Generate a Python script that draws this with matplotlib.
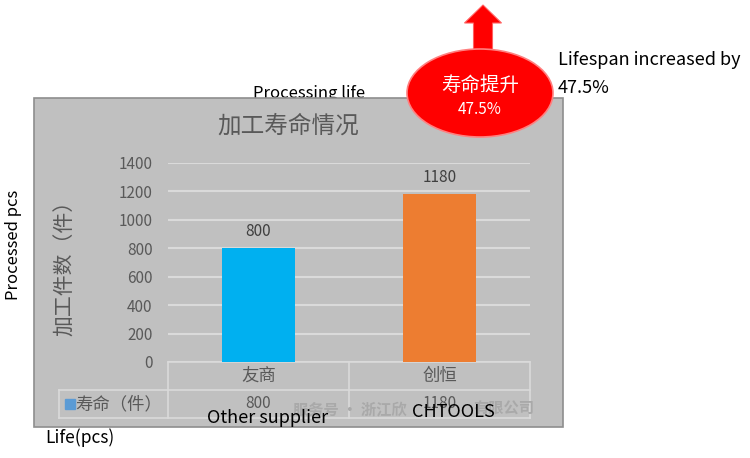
from matplotlib import pyplot as plt
from matplotlib.patches import Rectangle, Ellipse, FancyArrow

plt.rcParams['font.family'] = ['Noto Sans CJK SC', 'DejaVu Sans']

categories = ['友商', '创恒']
life_pcs = [800, 1180]
bar_colors = ['#00b0f0', '#ed7d31']
yticks = [0, 200, 400, 600, 800, 1000, 1200, 1400]
series_name = '寿命（件）'
chart_title = '加工寿命情况'
y_title = '加工件数（件）'
badge_lines = ['寿命提升', '47.5%']

W, H = 750, 458
fig = plt.figure(figsize=(W / 100, H / 100), dpi=100)

# background layer, pixel coords
bg = fig.add_axes([0, 0, 1, 1], zorder=0)
bg.set_xlim(0, W)
bg.set_ylim(H, 0)
bg.axis('off')
bg.text(309, 94, 'Processing life', fontsize=12, ha='center', va='center', color='black', zorder=1)
bg.add_patch(Rectangle((34, 98), 529, 329, fc='#c0c0c0', ec='#8e8e8e', lw=1.2, zorder=2))
bg.text(288, 126, chart_title, fontsize=17, ha='center', va='center', color='#595959', zorder=3)

# chart
ax = fig.add_axes([168 / W, 1 - 362 / H, 362 / W, 199 / H], zorder=1)
ax.set_facecolor('none')
x = list(range(len(categories)))
bars = ax.bar(x, life_pcs, width=0.4, color=bar_colors, zorder=3)
ax.bar_label(bars, labels=[str(v) for v in life_pcs], padding=6, fontsize=11, color='#404040')
ax.set_xlim(-0.5, 1.5)
ax.set_ylim(0, 1400)
ax.set_yticks(yticks)
ax.set_xticks([])
ax.grid(axis='y', color='#dadada', linewidth=1.5, zorder=1)
for s in ax.spines.values():
    s.set_visible(False)
ax.tick_params(axis='y', length=0, pad=11, labelsize=11, labelcolor='#595959')
ax.set_ylabel(y_title, fontsize=15, color='#595959')
ax.yaxis.set_label_coords(-0.255, 0.5)

# data table under the axis
tr = ax.get_xaxis_transform()
lc = '#dadada'
left = (59 - 168) / 181 - 0.5
r1, r2 = -28 / 199, -56 / 199
ax.plot([-0.5, 1.5], [0, 0], color=lc, lw=1.2, transform=tr, clip_on=False)
ax.plot([left, 1.5], [r1, r1], color=lc, lw=1.2, transform=tr, clip_on=False)
ax.plot([left, 1.5], [r2, r2], color=lc, lw=1.2, transform=tr, clip_on=False)
for xv in [-0.5, 0.5, 1.5]:
    ax.plot([xv, xv], [0, r2], color=lc, lw=1.2, transform=tr, clip_on=False)
ax.plot([left, left], [r1, r2], color=lc, lw=1.2, transform=tr, clip_on=False)
for xi, cat, v in zip(x, categories, life_pcs):
    ax.text(xi, r1 / 2, cat, transform=tr, ha='center', va='center', fontsize=12.5, color='#595959')
    ax.text(xi, (r1 + r2) / 2, str(v), transform=tr, ha='center', va='center', fontsize=11, color='#595959')
ax.plot([left + 0.061], [(r1 + r2) / 2], marker='s', ms=7, color='#5b9bd5', transform=tr, clip_on=False)
ax.text(left + 0.09, (r1 + r2) / 2, series_name, transform=tr, ha='left', va='center', fontsize=12.5, color='#595959')

# overlay layer, pixel coords
top = fig.add_axes([0, 0, 1, 1], zorder=5)
top.set_facecolor('none')
top.set_xlim(0, W)
top.set_ylim(H, 0)
top.axis('off')
top.text(293, 409, '服务号 · 浙江欣', fontsize=11, fontweight='bold', color='#a9a9a9', ha='left', va='center')
top.text(535, 409, '有限公司', fontsize=11, fontweight='bold', color='#a9a9a9', ha='right', va='center')
top.add_patch(FancyArrow(483, 52, 0, -47, width=19, head_width=37, head_length=18,
                         length_includes_head=True, fc='#ff0000', ec='#ff6060', lw=0.8))
top.add_patch(Ellipse((480, 93), 146, 88, fc='#ff0000', ec='#ff8080', lw=1.2))
top.text(480, 85, badge_lines[0], fontsize=14, color='white', ha='center', va='center')
top.text(480, 109, badge_lines[1], fontsize=11, color='white', ha='center', va='center')
top.text(558, 60, 'Lifespan increased by', fontsize=13, ha='left', va='center', color='black')
top.text(558, 88, '47.5%', fontsize=13, ha='left', va='center', color='black')
top.text(14, 245, 'Processed pcs', fontsize=12, rotation=90, ha='center', va='center', color='black')
top.text(268, 418, 'Other supplier', fontsize=13, ha='center', va='center', color='black')
top.text(453, 412, 'CHTOOLS', fontsize=13, ha='center', va='center', color='black')
top.text(45, 438, 'Life(pcs)', fontsize=12.5, ha='left', va='center', color='black')

fig.savefig('out.png', dpi=100)
